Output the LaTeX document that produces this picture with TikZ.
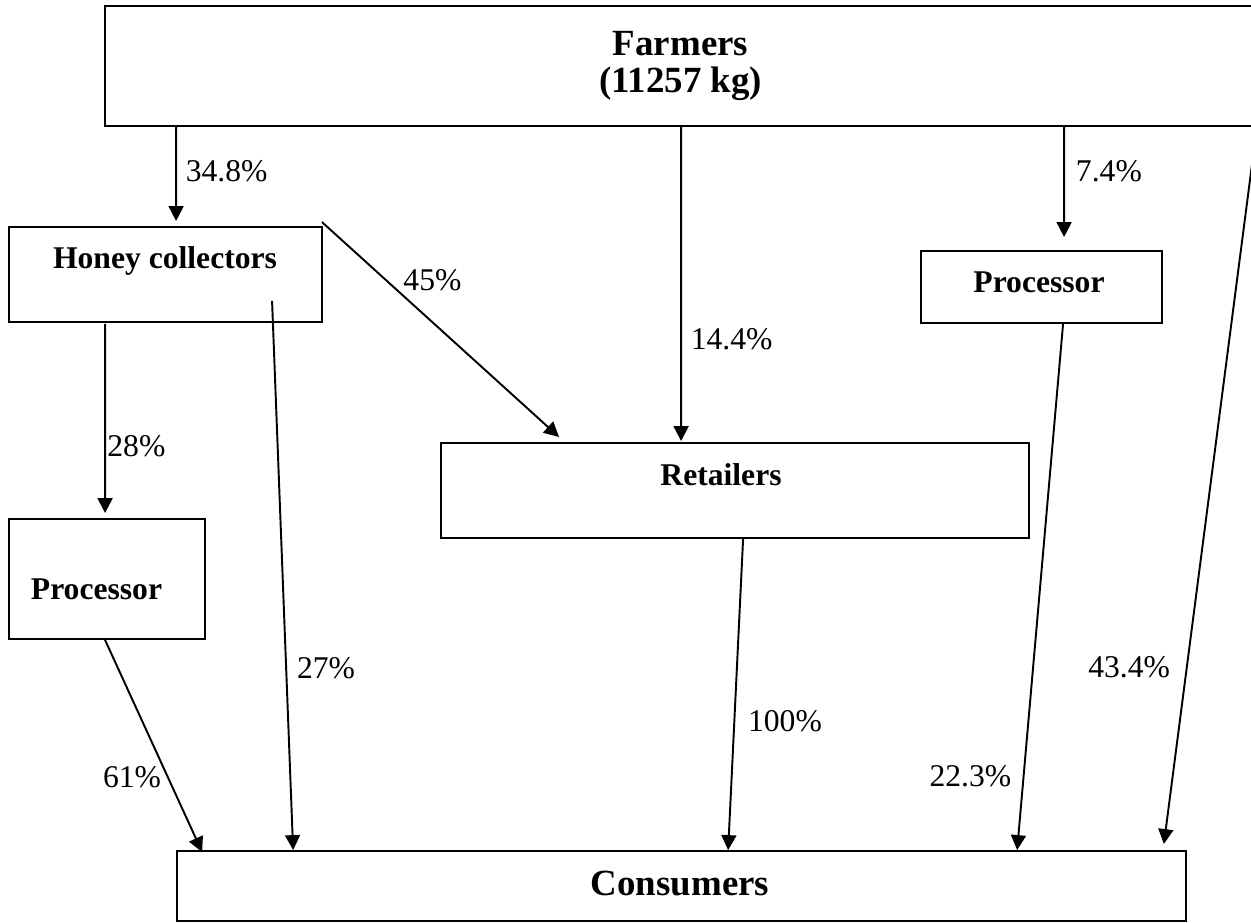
\documentclass[tikz,border=0pt]{standalone}
\usepackage{fontspec}
\setmainfont{Liberation Serif}
\usetikzlibrary{arrows.meta}
\usetikzlibrary{calc}

\tikzset{
  box/.style={draw, line width=1.1pt, inner sep=0pt},
  title/.style={font=\bfseries\fontsize{18}{21}\selectfont, inner sep=0pt, anchor=base},
  bigtitle/.style={font=\bfseries\fontsize{21}{21}\selectfont, inner sep=0pt, align=center},
  pct/.style={font=\fontsize{18}{21}\selectfont, inner sep=0pt},
  flow/.style={-{Triangle[width=8.5pt,length=8.5pt]}, line width=1.1pt},
}

\begin{document}
\begin{tikzpicture}[x=0.02cm, y=-0.02cm]
\useasboundingbox (0,0) rectangle (1251,923);
\fill[white] (0,0) rectangle (1251,923);
% boxes
\node[box, minimum width=23.02cm, minimum height=2.4cm] (fa) at (680.5,66) {};
\node[box, minimum width=6.26cm, minimum height=1.9cm] (hc) at (165.5,274.5) {};
\node[box, minimum width=4.82cm, minimum height=1.44cm] (pr2) at (1041.5,287) {};
\node[box, minimum width=11.76cm, minimum height=1.9cm] (rt) at (735,490.5) {};
\node[box, minimum width=3.92cm, minimum height=2.4cm] (pr1) at (107,579) {};
\node[box, minimum width=20.18cm, minimum height=1.4cm] (co) at (681.5,886) {};
% box titles
\node[bigtitle] (fa-t) at (680.5,66) {Farmers\\(11257 kg)};
\node[title] (hc-t) at (165,268) {Honey collectors};
\node[title] (pr2-t) at (1039,292) {Processor};
\node[title] (rt-t) at (721,485) {Retailers};
\node[title] (pr1-t) at (96.5,599) {Processor};
\node[bigtitle, anchor=base] (co-t) at (680,895) {Consumers};
% flows
\path[flow]
($(fa.south west)+(72,0)$) edge node[pct, pos=0.469, anchor=west, xshift=5pt] {34.8\%} ($(hc.north west)+(168,-5)$)
($(fa.south west)+(577,0)$) edge node[pct, pos=0.677, anchor=west, xshift=5pt] {14.4\%} ($(rt.north west)+(241,-1)$)
($(fa.south west)+(960,0)$) edge node[pct, pos=0.402, anchor=west, xshift=6.2pt] {7.4\%} ($(pr2.north west)+(144,-13)$)
(fa.south east) edge node[pct, pos=0.754, anchor=east, xshift=-9pt] {43.4\%} ($(co.north east)+(-23,-6)$)
($(hc.north east)+(-1,-4)$) edge node[pct, pos=0.27, anchor=west, xshift=9.4pt] {45\%} ($(rt.north west)+(119,-5)$)
($(hc.south west)+(97,1)$) edge node[pct, pos=0.644, anchor=west, xshift=0.8pt] {28\%} ($(pr1.north west)+(97,-5)$)
($(hc.south west)+(264,-22)$) edge node[pct, pos=0.668, anchor=west, xshift=5.7pt] {27\%} ($(co.north west)+(117,0)$)
($(pr1.south west)+(97,0)$) edge node[pct, pos=0.645, anchor=east, xshift=-3.2pt] {61\%} ($(co.north west)+(26,2)$)
($(rt.south west)+(303,0)$) edge node[pct, pos=0.587, anchor=west, xshift=7.3pt] {100\%} ($(co.north west)+(552,0)$)
($(pr2.south west)+(143,0)$) edge node[pct, pos=0.86, anchor=east, xshift=-6.5pt] {22.3\%} ($(co.north west)+(841,0)$)
;
\end{tikzpicture}
\end{document}
